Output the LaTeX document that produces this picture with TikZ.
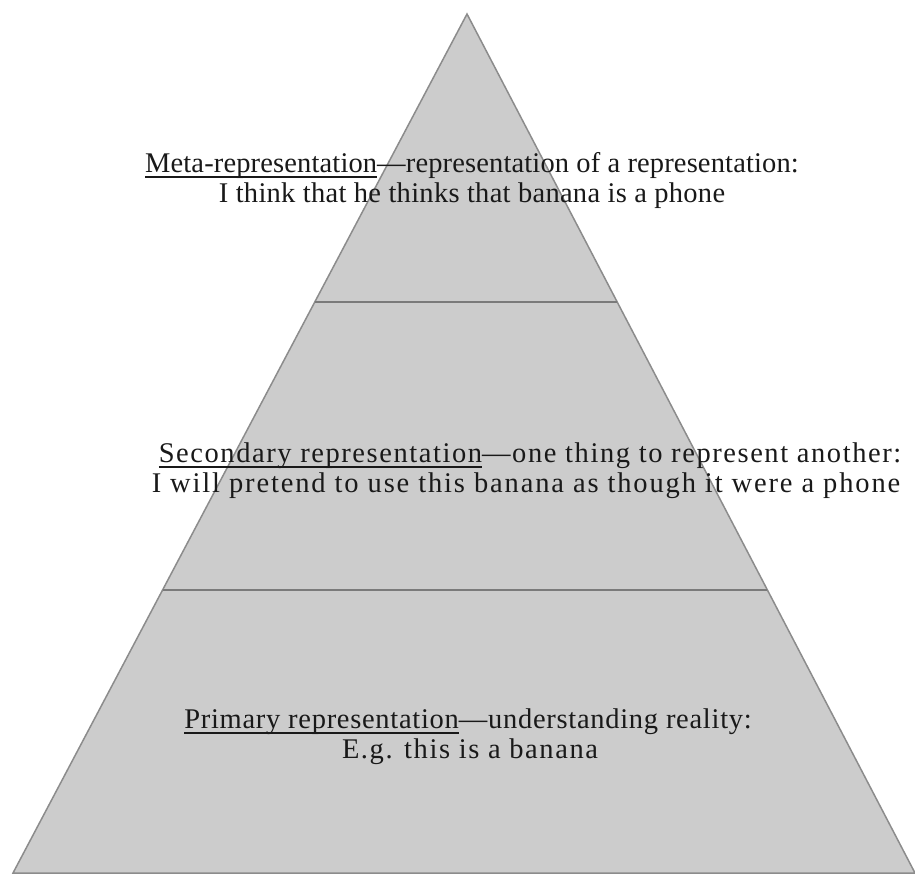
\documentclass[tikz,border=0pt]{standalone}
\usepackage{fontspec}
\setmainfont{Liberation Serif}
\usetikzlibrary{calc}
\newcommand{\termul}[1]{\leavevmode\setbox0=\hbox{#1}\rlap{\vrule width\wd0 height -3.5pt depth 5.6pt}\box0}
\begin{document}
\begin{tikzpicture}[x=1pt,y=-1pt,
  lbl/.style={anchor=base, inner sep=0pt, font=\fontsize{28.5}{30}\selectfont, text=black!90},
  pyrfill/.style={fill=black!20},
  edge/.style={draw=black!45, line width=1.5pt, line join=miter},
  divider/.style={draw=black!52, line width=2.4pt}]
\useasboundingbox (0,0) rectangle (915,879);
\coordinate (apex) at (467,14);
\coordinate (bl) at (13,873);
\coordinate (br) at (915,873);
\fill[pyrfill] (apex) -- (br) -- (bl) -- cycle;
\draw[edge] (apex) -- (br) -- (bl) -- cycle;
\coordinate (d1l) at ($(apex)!0.3353!(bl)$);
\coordinate (d1r) at ($(apex)!0.3353!(br)$);
\coordinate (d2l) at ($(apex)!0.6705!(bl)$);
\coordinate (d2r) at ($(apex)!0.6705!(br)$);
\draw[divider] (d1l) -- (d1r);
\draw[divider] (d2l) -- (d2r);
\node[lbl] (m1) at (472,172) {\addfontfeatures{LetterSpace=0.5}\termul{Meta-representation}—representation of a representation:};
\node[lbl] (m2) at (472,202) {\addfontfeatures{LetterSpace=1}I think that he thinks that banana is a phone};
\node[lbl] (s1) at (530,462) {\addfontfeatures{LetterSpace=5.5}\termul{Secondary representation}—one thing to represent another:};
\node[lbl] (s2) at (526,492) {\addfontfeatures{LetterSpace=6.5}I will pretend to use this banana as though it were a phone};
\node[lbl] (p1) at (468,728) {\addfontfeatures{LetterSpace=2.5}\termul{Primary representation}—understanding reality:};
\node[lbl] (p2) at (470,758) {\addfontfeatures{LetterSpace=5.5}E.g. this is a banana};
\end{tikzpicture}
\end{document}
